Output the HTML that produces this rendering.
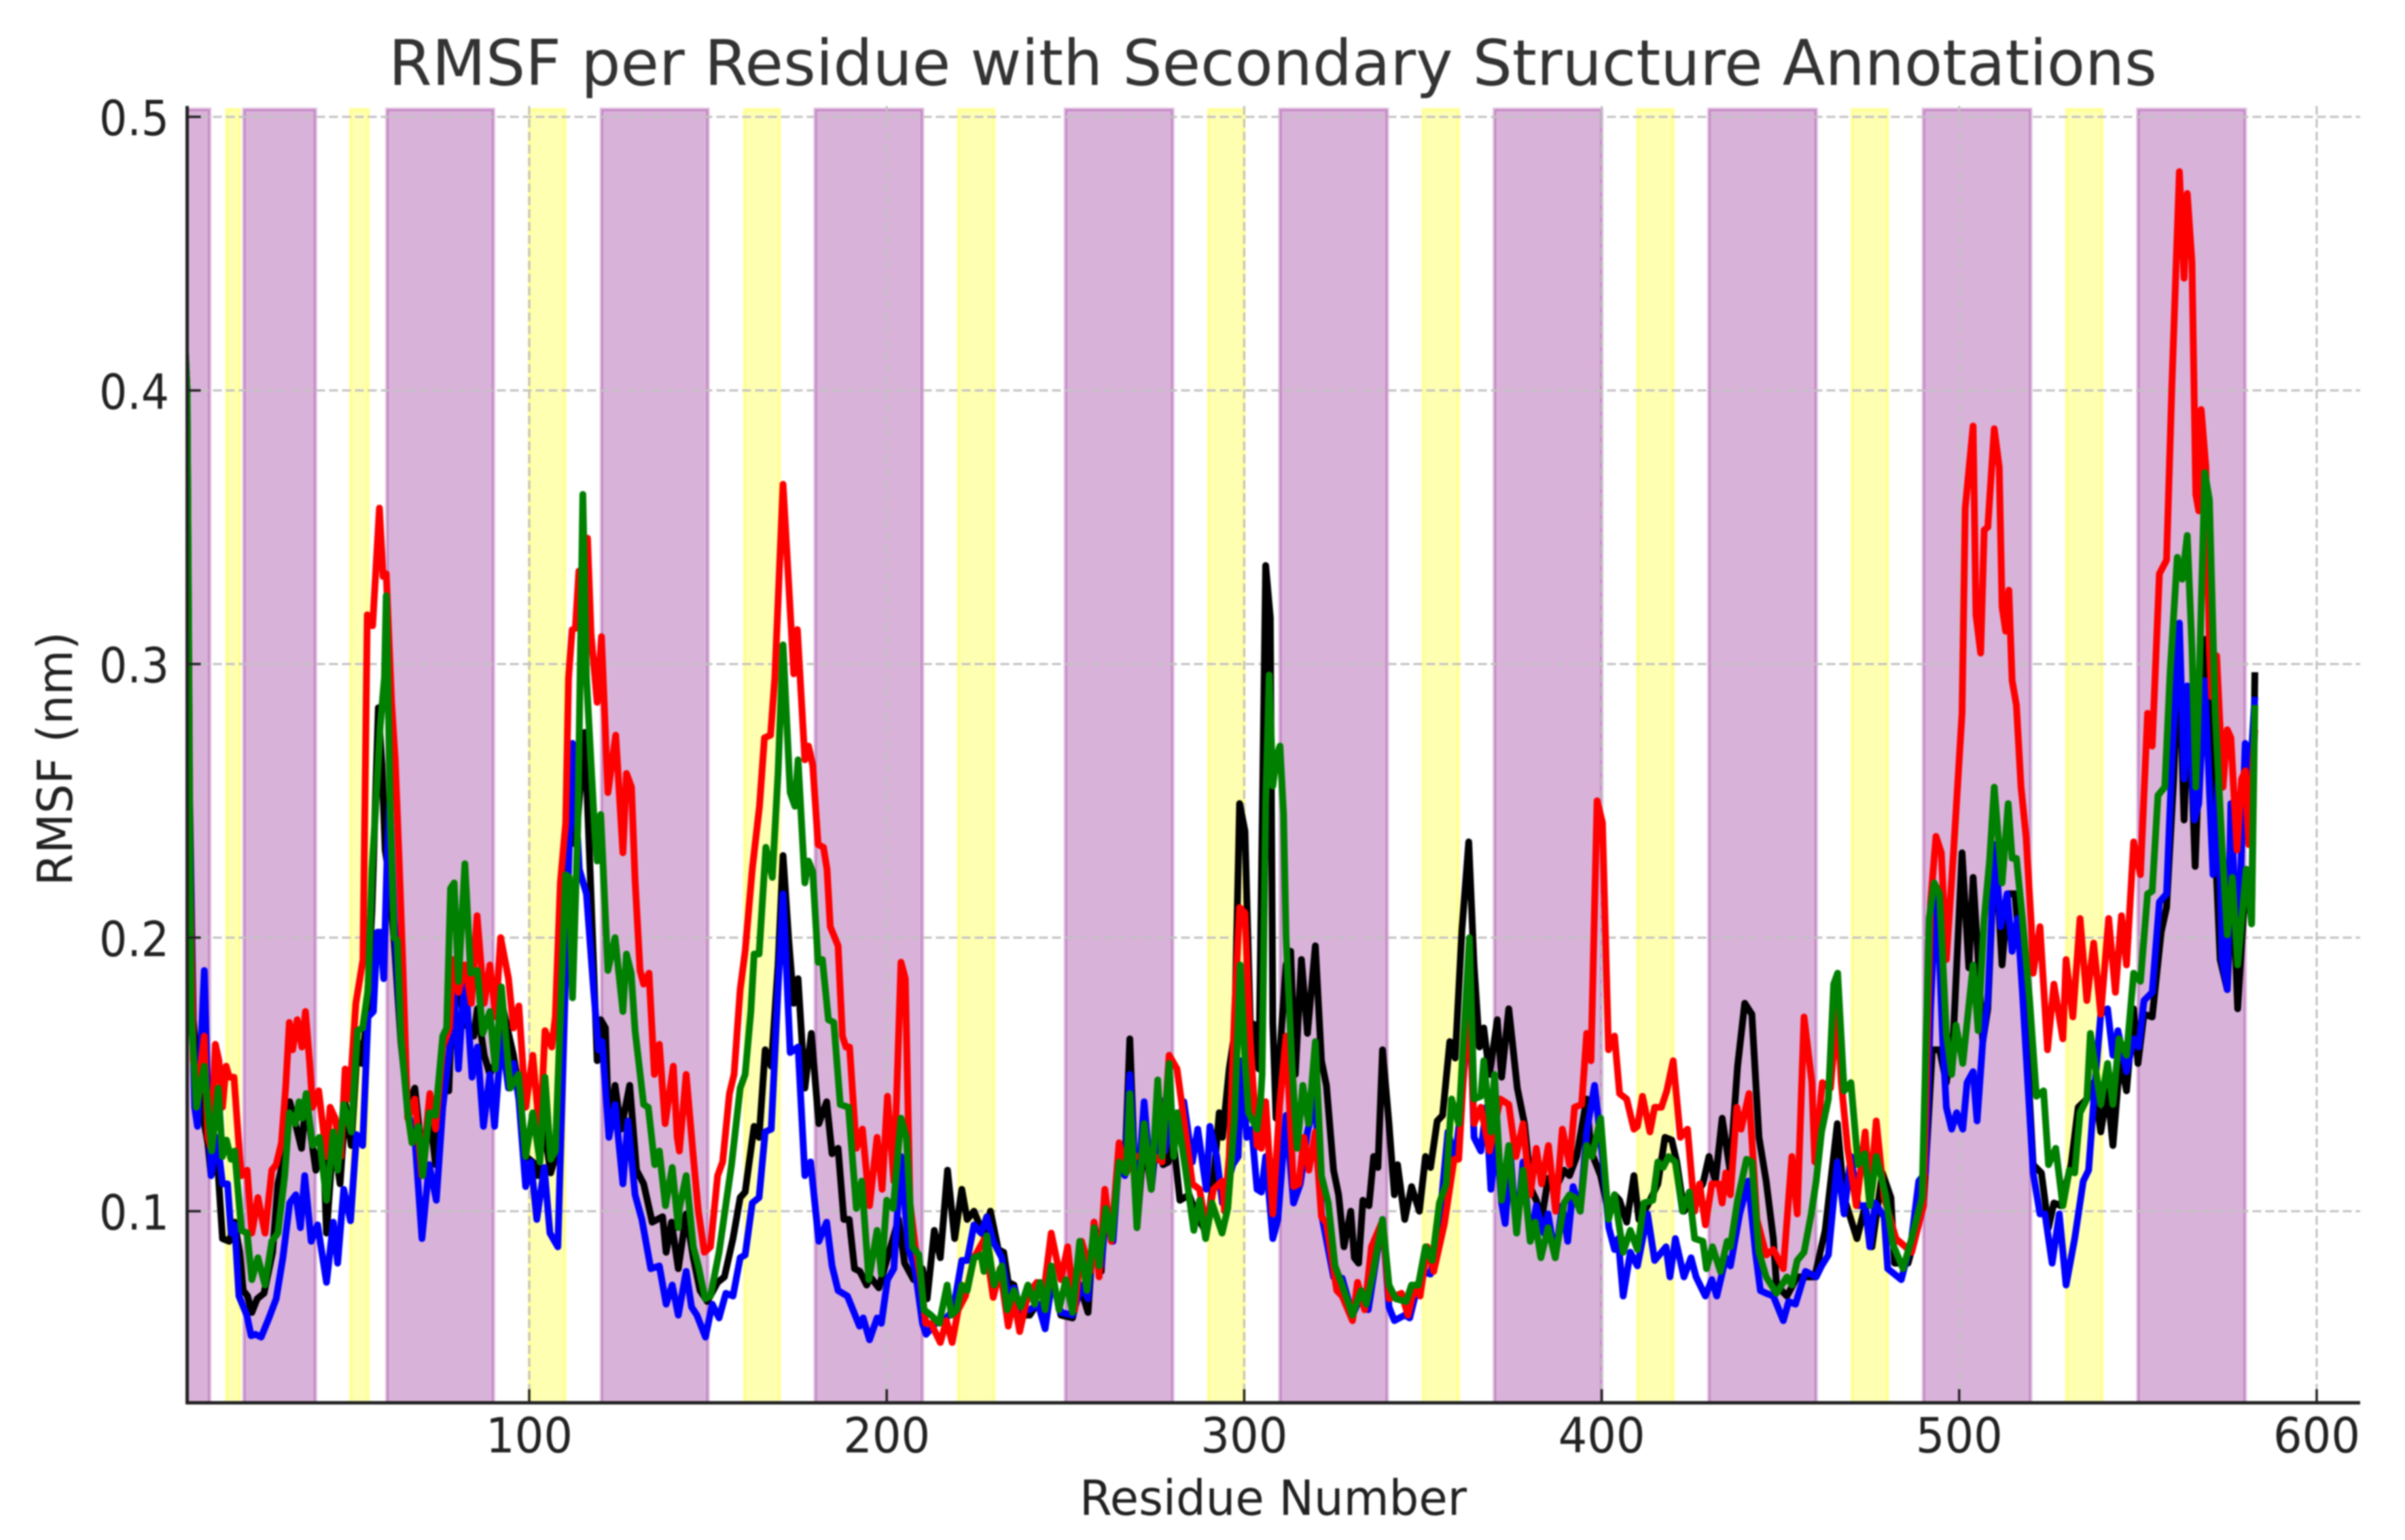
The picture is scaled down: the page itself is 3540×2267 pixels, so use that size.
<!DOCTYPE html>
<html>
<head>
<meta charset="utf-8">
<title>RMSF per Residue with Secondary Structure Annotations</title>
<style>
html,body{margin:0;padding:0;background:#fff;}
body{width:3540px;height:2267px;overflow:hidden;}
svg{display:block;font-family:"DejaVu Sans","Liberation Sans",sans-serif;filter:blur(1px);}
</style>
</head>
<body>
<svg id="chart" width="3540" height="2267" viewBox="0 0 3540 2267" xmlns="http://www.w3.org/2000/svg">
<defs><clipPath id="plot-clip"><rect x="275" y="150" width="3199" height="1915"></rect></clipPath></defs>
<rect x="0" y="0" width="3540" height="2267" fill="#ffffff"></rect>
<g id="spans"></g>
<g id="grid"></g>
<g id="series" clip-path="url(#plot-clip)"></g>
<g id="axes"></g>
<text x="572" y="125" font-size="93" fill="#333333" textLength="2603" lengthAdjust="spacingAndGlyphs">RMSF per Residue with Secondary Structure Annotations</text>
<text x="1589" y="2230" font-size="71" fill="#222222" textLength="570" lengthAdjust="spacingAndGlyphs">Residue Number</text>
<text transform="translate(106,1304) rotate(-90)" font-size="71" fill="#222222" textLength="374" lengthAdjust="spacingAndGlyphs">RMSF (nm)</text>
</svg>
<script>
const xTickValues=[100,200,300,400,500,600];
const xTickLabels=["100","200","300","400","500","600"];
const yTickValues=[0.1,0.2,0.3,0.4,0.5];
const yTickLabels=["0.1","0.2","0.3","0.4","0.5"];
const helixRanges=[[1,10.6],[20.2,40.2],[60.2,90],[120.2,150],[180,210],[250,280],[310,340],[370,400],[430,460],[490,520],[550,580]];
const sheetRanges=[[15.3,19],[50,55],[100,110],[160.2,170],[220,230],[290,300],[350,360],[410,420],[470,480],[530,540]];

const blackSeries=[[1,.5],[4.3,.4],[5,.25],[6,.17],[8,.14],[10.1,.125],[11,.113],[12.7,.12],[14.2,.09],[16.1,.089],[17.6,.096],[19,.085],[20,.071],[21.2,.069],[22.4,.063],[23.9,.068],[25.8,.07],[28.2,.085],[29.7,.11],[31.1,.118],[33,.14],[34.6,.132],[36.3,.123],[37.6,.141],[39,.127],[40.3,.115],[42.3,.127],[43.3,.092],[45.2,.127],[47.1,.11],[48.6,.139],[50.2,.124],[52,.162],[53.2,.154],[54.4,.169],[56,.21],[57.8,.284],[58.8,.263],[59.7,.232],[60.5,.225],[62.2,.199],[64.1,.162],[66,.138],[68,.145],[70.2,.118],[72,.138],[73.8,.117],[75.8,.145],[77.5,.144],[78.7,.187],[80,.183],[82,.169],[84.5,.164],[85.5,.174],[87.4,.157],[89,.15],[90.8,.155],[92.7,.174],[94.2,.165],[95.6,.157],[97.1,.145],[99,.12],[101,.118],[102.4,.113],[104,.132],[106,.114],[107.8,.122],[109.7,.173],[111.6,.26],[113,.234],[115.5,.275],[117,.225],[119,.155],[120,.17],[121.3,.167],[122.3,.129],[124,.146],[125.7,.13],[128.1,.146],[130,.115],[132,.11],[134.4,.096],[137.3,.098],[138.3,.085],[139.8,.096],[141.7,.079],[143.9,.099],[145.9,.083],[147.8,.071],[149.8,.067],[152.7,.074],[154.6,.076],[157,.09],[159,.105],[160.4,.107],[162.9,.131],[164.3,.127],[166,.159],[167.7,.153],[169.6,.19],[171,.23],[172.6,.199],[174,.176],[175.2,.185],[177.1,.145],[178.9,.165],[181,.132],[183.2,.14],[184.7,.121],[186.4,.123],[188,.097],[189.5,.097],[191,.079],[192.5,.078],[194.4,.073],[195.4,.076],[197.8,.072],[200.2,.083],[203.3,.097],[205,.081],[207.5,.075],[210,.079],[211.3,.068],[213.3,.093],[215,.083],[217,.115],[219,.09],[221,.108],[222.5,.097],[224.4,.1],[227.2,.091],[229,.1],[231.2,.086],[232.7,.085],[234,.074],[235.6,.073],[237.5,.062],[240,.062],[242,.066],[244.3,.066],[246.3,.076],[248.7,.062],[252,.061],[254,.073],[256.3,.063],[258,.096],[260,.078],[261.3,.103],[263,.089],[265,.118],[266.6,.115],[268,.163],[270,.094],[272,.127],[274,.108],[276.3,.138],[277.3,.117],[278.8,.118],[279.7,.132],[282,.104],[284.6,.106],[286.5,.099],[289.4,.092],[291.4,.111],[293,.136],[293.9,.127],[295.8,.152],[297.3,.165],[298.7,.249],[300.2,.239],[301.7,.169],[303.1,.168],[304.1,.152],[306,.336],[307.3,.317],[308,.169],[308.9,.134],[310.4,.166],[311.7,.19],[313,.195],[314.3,.15],[316,.192],[317.7,.165],[319.9,.197],[321.6,.155],[323,.146],[325,.115],[326.4,.106],[327.9,.087],[329.8,.1],[330.8,.083],[332,.081],[333.2,.104],[334.9,.102],[336.2,.12],[337.4,.116],[338.7,.159],[340.5,.132],[342,.106],[342.9,.117],[344.9,.097],[346.8,.109],[349,.1],[350.7,.12],[352.1,.116],[354,.133],[355.5,.135],[357.5,.162],[359,.156],[360.9,.203],[362.8,.235],[364.3,.19],[365.8,.16],[367,.167],[368.6,.15],[370.8,.17],[372,.149],[374,.174],[376.4,.145],[378.4,.132],[380.3,.108],[381.7,.104],[383.2,.097],[385,.112],[387,.108],[389.5,.115],[391,.113],[393,.12],[395.8,.141],[397,.122],[399.7,.113],[402,.099],[403.6,.106],[405,.104],[407,.096],[409,.113],[410.4,.097],[412.8,.102],[415.7,.11],[417.7,.127],[419.6,.126],[421,.118],[423,.1],[425.4,.104],[428.3,.11],[430,.12],[431.8,.111],[433.7,.134],[435.9,.115],[438,.153],[440,.176],[442,.172],[444,.127],[446,.111],[448,.09],[448.9,.073],[451.8,.069],[454.7,.076],[459.6,.076],[462.5,.093],[465.9,.132],[467.8,.105],[471.4,.09],[473.7,.102],[475.6,.087],[478.5,.114],[480.9,.105],[481.9,.081],[485.7,.081],[490,.102],[492.5,.159],[494.5,.159],[496.4,.147],[498.4,.165],[500.8,.231],[502.7,.189],[503.9,.222],[505.3,.192],[506.6,.162],[508,.174],[510,.234],[512,.19],[513.6,.216],[515.6,.216],[517.6,.186],[519.2,.153],[520.7,.117],[523,.114],[525,.094],[526.5,.103],[528.4,.102],[531.3,.117],[533.3,.138],[535.7,.141],[537.6,.147],[539.6,.129],[541.5,.144],[543,.124],[545,.156],[546.8,.144],[548.8,.174],[550,.154],[551.7,.172],[554,.171],[556.5,.202],[558,.211],[560,.258],[561.4,.306],[562.9,.243],[564.3,.288],[566,.226],[567.2,.267],[568.7,.309],[570.6,.264],[573,.192],[575,.181],[576.4,.225],[577.9,.174],[580.3,.225],[581.8,.207],[582.7,.297]];

const blueSeries=[[1,.4],[4.3,.3],[5,.24],[6,.16],[6.4,.138],[7.2,.131],[9.1,.188],[10.1,.141],[11,.113],[12.7,.127],[14.2,.11],[15.6,.11],[16.6,.092],[17.6,.095],[18.8,.069],[21,.062],[22.2,.0545],[23.4,.055],[25,.054],[27.2,.061],[29.2,.068],[31.1,.083],[33,.103],[34.7,.106],[36,.094],[37.2,.113],[39,.089],[40.8,.095],[43.3,.074],[45.2,.096],[46.4,.081],[48.1,.108],[50,.0965],[51.7,.128],[53.4,.124],[54.9,.171],[56.4,.173],[57.5,.202],[58.3,.202],[59.3,.185],[60.2,.228],[61,.25],[62.2,.207],[64.1,.164],[66,.136],[68,.127],[70,.09],[72,.117],[74,.104],[75.8,.138],[77.7,.159],[78.7,.187],[80.2,.152],[82,.188],[84,.149],[85.5,.16],[87.2,.131],[89,.15],[90.3,.131],[92.2,.164],[94.2,.145],[95.6,.154],[97.1,.141],[99,.109],[100.5,.118],[102.1,.097],[104.2,.116],[105.8,.092],[108,.087],[109.7,.164],[111,.225],[112.1,.271],[114,.225],[116,.216],[118,.181],[119.4,.159],[120.4,.162],[122.3,.127],[124,.139],[126.2,.11],[127.6,.133],[129.6,.106],[131.5,.097],[134,.079],[136.4,.08],[138.3,.066],[140,.073],[141.7,.062],[143.9,.078],[145.4,.065],[146.9,.062],[149.3,.054],[151.2,.066],[153.1,.061],[155,.07],[157,.069],[159,.083],[160.4,.084],[162.4,.103],[164.3,.105],[166,.129],[167.7,.13],[169.6,.181],[171,.216],[173,.158],[175.2,.16],[177.1,.113],[178.7,.118],[181,.089],[183.2,.096],[184.7,.08],[186.4,.071],[189,.069],[192.4,.058],[193.4,.061],[195.2,.053],[197.3,.061],[198.5,.059],[200.2,.075],[202,.079],[204,.12],[206,.087],[208,.078],[210,.059],[211,.055],[213.7,.059],[216.7,.061],[218.6,.064],[221,.082],[222.5,.082],[224.4,.095],[226.4,.092],[228,.098],[229.8,.089],[232.2,.083],[234,.069],[235.6,.072],[237.5,.064],[240,.064],[242.4,.066],[244.3,.057],[246.3,.075],[248.7,.063],[252,.062],[254.5,.073],[256.3,.068],[258,.094],[260,.08],[261.3,.099],[263.3,.089],[265,.12],[266.6,.113],[268,.15],[270,.103],[272,.14],[274,.108],[276.3,.141],[277.8,.122],[279.7,.136],[281.2,.129],[283.1,.14],[285.5,.118],[287,.13],[289.4,.108],[290.4,.131],[292.3,.12],[293.9,.103],[296.8,.117],[298.3,.12],[299.2,.155],[300.7,.127],[302.1,.13],[303.6,.108],[304.8,.107],[306,.12],[308,.09],[309.4,.097],[311.7,.135],[313.8,.103],[315.7,.11],[317.7,.129],[319.9,.141],[321.6,.099],[325,.076],[327.4,.0755],[330.3,.062],[332.7,.069],[334.7,.064],[336.6,.08],[338.7,.097],[340.5,.065],[342,.06],[344.9,.062],[346.3,.061],[347.8,.069],[349.7,.078],[352.1,.077],[354.6,.096],[357,.129],[359,.119],[360.9,.141],[363,.178],[364.3,.127],[366.2,.122],[367.7,.138],[369,.108],[370.6,.127],[372,.103],[373,.0955],[374.5,.12],[376.2,.092],[378,.118],[380,.089],[381.7,.102],[383.8,.092],[385,.099],[387,.083],[389,.102],[390.5,.089],[392,.109],[394,.1],[395.8,.129],[398,.146],[400.2,.12],[402,.094],[403.6,.086],[404.6,.09],[406,.069],[408,.085],[410,.08],[412.8,.099],[414.8,.082],[418,.087],[419.1,.076],[420.6,.09],[423,.076],[425,.083],[426.4,.076],[429,.069],[430.8,.075],[432.2,.069],[434.7,.083],[436,.08],[438.6,.099],[441,.111],[443,.085],[444.4,.071],[446,.07],[448,.069],[450.8,.06],[452.3,.067],[454.2,.066],[457,.078],[460,.076],[461.5,.08],[463.4,.084],[465.9,.118],[467.8,.099],[469.7,.12],[471.7,.102],[473.7,.102],[475,.087],[476.5,.103],[479,.098],[480,.079],[483.8,.075],[486.7,.09],[488.7,.111],[490.6,.114],[492,.174],[493.5,.216],[494.5,.192],[495.4,.162],[496.4,.138],[497.9,.13],[499.3,.136],[501,.13],[502.2,.147],[503.9,.151],[505,.133],[506.6,.162],[508,.177],[510,.234],[511.6,.204],[513.4,.216],[514.8,.195],[516.3,.207],[517.7,.18],[519.2,.147],[520.7,.114],[522.6,.099],[524,.099],[526,.081],[528,.099],[529.9,.073],[532.3,.09],[534.7,.111],[536.2,.115],[538,.147],[539.6,.172],[541.5,.174],[543,.157],[544.4,.166],[546.8,.151],[548.8,.163],[550.2,.16],[551.7,.177],[554,.18],[556,.213],[558,.216],[559.5,.264],[561.6,.315],[562.9,.258],[563.8,.292],[565.8,.243],[567,.249],[568.7,.294],[571,.223],[572.5,.258],[573.5,.192],[575,.181],[576,.249],[577.9,.192],[580,.271],[581.3,.258],[582.7,.288]];

const redSeries=[[1,.4],[4.3,.3],[5,.23],[6,.155],[7.4,.145],[9.1,.164],[10.1,.127],[11,.123],[12.2,.161],[13.2,.155],[14.2,.138],[15.2,.153],[16.1,.149],[17.4,.149],[19,.12],[19.5,.113],[21.1,.115],[22.4,.092],[24.1,.105],[26.1,.092],[28,.115],[29.2,.117],[30.7,.125],[31.9,.146],[32.9,.169],[33.8,.159],[35.1,.17],[36.4,.16],[37.4,.173],[38.6,.154],[39.4,.138],[41.1,.144],[43.3,.12],[44.3,.138],[45.7,.134],[47.3,.12],[48.5,.152],[49.7,.141],[51.5,.176],[53.5,.192],[54.7,.318],[56.2,.314],[58.1,.357],[59.1,.332],[60,.333],[61.5,.286],[62.5,.265],[63.6,.228],[64.6,.192],[66,.134],[68,.141],[70,.113],[72.2,.143],[73.8,.13],[75.8,.16],[77.7,.167],[78.7,.192],[80.2,.18],[82,.19],[83.8,.176],[85.4,.208],[87.4,.176],[89,.19],[90.6,.171],[92,.2],[94.2,.185],[95.6,.167],[97.1,.175],[99,.138],[101,.157],[103,.127],[104.4,.166],[106.3,.16],[107.3,.171],[108.7,.22],[110.2,.242],[111,.295],[112,.3125],[112.9,.313],[113.9,.334],[115,.328],[116.3,.346],[117.3,.311],[119,.286],[120.2,.31],[122,.253],[124.2,.274],[126.2,.231],[127.2,.26],[128.6,.255],[129.6,.221],[131,.188],[132,.183],[133.5,.187],[135,.15],[136.4,.161],[138,.132],[140.3,.153],[141.4,.127],[142,.122],[143.9,.15],[145.9,.12],[147.3,.1],[149,.085],[150.7,.087],[152.7,.113],[154.1,.118],[156,.143],[157.3,.15],[159,.181],[160.4,.195],[162.4,.225],[164.4,.248],[165.8,.273],[167.5,.274],[168.7,.295],[171,.3657],[174,.2964],[175,.3126],[177.1,.265],[178.1,.27],[179.3,.263],[180.8,.234],[182.3,.233],[183.3,.225],[184.2,.204],[186.4,.197],[187.6,.164],[188.6,.16],[189.6,.16],[191.5,.123],[193.2,.13],[195.2,.102],[197.3,.127],[198.7,.108],[200.2,.142],[202,.111],[204,.191],[205.2,.185],[206.5,.103],[208,.087],[209.4,.076],[210.9,.059],[212.4,.059],[215,.052],[216.7,.06],[218.3,.052],[220,.064],[222,.069],[224.4,.083],[227.4,.09],[229.8,.0685],[231.7,.079],[234,.058],[235.6,.068],[237.2,.056],[239.5,.0695],[242,.074],[243.8,.069],[246,.092],[248.7,.075],[250.6,.087],[252.6,.064],[254.5,.089],[257,.078],[258,.096],[259.4,.076],[261,.108],[262.8,.089],[265,.125],[267,.114],[269,.12],[272,.12],[275,.12],[277,.118],[279,.157],[281.2,.152],[283.6,.129],[285.5,.11],[287.5,.108],[289.4,.094],[291.4,.108],[293.8,.111],[294.5,.1],[295.8,.12],[297.3,.173],[298.7,.211],[300.2,.209],[301.7,.162],[303.6,.124],[304.8,.123],[306,.14],[308,.099],[309.9,.139],[311.7,.164],[313.8,.109],[315.3,.11],[316.7,.127],[318.1,.115],[319.9,.129],[321.6,.098],[323,.0955],[325.9,.071],[327.4,.069],[330.3,.06],[331.7,.074],[333.7,.064],[335.6,.087],[338.7,.0965],[340.5,.068],[344,.07],[345.8,.062],[347.8,.073],[349.2,.069],[351.2,.087],[353,.078],[356,.0955],[358.7,.119],[360,.119],[361.9,.162],[363,.174],[364.3,.132],[366.2,.138],[368.6,.122],[371.6,.141],[374,.139],[376,.12],[378,.132],[380,.106],[381.7,.123],[383.2,.11],[385.1,.124],[387.1,.1],[389,.13],[391,.117],[392.4,.138],[394.4,.139],[395.8,.165],[397,.155],[398.7,.25],[400.2,.242],[401.9,.159],[403.6,.164],[405,.143],[407,.141],[409,.13],[410,.131],[411.4,.142],[413.5,.129],[414.8,.138],[416.7,.138],[418.2,.144],[420,.155],[422,.127],[424,.13],[426,.1],[427.4,.11],[429,.095],[430.8,.11],[432.8,.11],[433.7,.103],[434.7,.114],[436,.106],[437.8,.138],[439,.13],[441.2,.143],[443.4,.097],[446,.084],[448,.086],[450.8,.079],[453.2,.12],[454.7,.099],[456.6,.171],[458.8,.147],[459.6,.118],[461.7,.147],[464,.145],[465.9,.174],[467,.147],[468.8,.123],[471.2,.102],[473.7,.129],[475,.105],[476.8,.133],[479,.105],[482.3,.09],[486.7,.085],[490,.102],[492,.213],[493.5,.237],[495,.231],[496.4,.192],[498.4,.231],[500.8,.282],[501.7,.357],[503.9,.387],[504.7,.318],[506,.304],[507,.349],[508,.35],[509.8,.386],[511.2,.372],[512,.321],[513,.312],[513.9,.327],[514.8,.294],[516,.285],[517.3,.255],[518.7,.237],[520.2,.204],[520.7,.187],[522.6,.204],[524.7,.159],[526.5,.183],[529,.163],[529.9,.192],[531.8,.171],[533.8,.207],[535.7,.177],[537.6,.198],[539.6,.172],[541.8,.207],[543.7,.18],[545.4,.208],[546.8,.19],[548.8,.235],[550.7,.223],[552.7,.282],[554,.27],[556,.333],[558,.338],[559.5,.402],[561.6,.48],[562.9,.441],[563.8,.472],[565.1,.447],[566.2,.362],[567,.356],[567.7,.393],[569,.372],[570,.306],[570.6,.288],[572,.303],[573.8,.255],[575,.276],[576,.273],[577.7,.232],[579,.258],[580,.261],[581,.234],[582.7,.276]];

const greenSeries=[[1,.5],[4.3,.4],[5,.24],[5.4,.173],[6.9,.138],[9.1,.153],[11.2,.122],[13,.145],[14.2,.12],[15.3,.126],[16.6,.119],[17.6,.122],[19.5,.093],[21.1,.092],[22.4,.075],[24.1,.083],[26.1,.073],[28,.089],[29.7,.092],[31.6,.113],[32.9,.136],[34.6,.132],[35.6,.14],[36.5,.134],[37.6,.143],[39.4,.124],[41.3,.127],[43.3,.104],[45.2,.129],[46.4,.115],[48.1,.139],[50.2,.129],[52,.166],[53.4,.167],[54.9,.181],[56,.225],[56.8,.242],[58.3,.277],[59.5,.295],[60,.325],[61.2,.242],[62.2,.2],[63.1,.199],[64.1,.164],[66,.136],[67.2,.125],[69,.131],[70.2,.113],[72,.136],[73.8,.135],[75.8,.164],[76.9,.167],[78,.218],[79,.22],[80.2,.184],[82,.227],[83.6,.187],[85.5,.188],[87,.165],[89,.173],[90.5,.152],[92.2,.182],[94.7,.145],[97,.15],[99,.12],[101,.136],[103,.118],[104.4,.149],[106,.119],[107.3,.122],[110.2,.223],[111.2,.222],[112.1,.178],[113.6,.242],[115,.362],[116,.295],[118.4,.237],[119,.228],[120,.245],[122,.188],[124,.2],[126.2,.173],[127.2,.194],[128.5,.187],[129.6,.166],[132,.139],[133.3,.138],[135.1,.117],[136.4,.122],[138.1,.102],[140,.116],[141.7,.094],[142,.101],[143.9,.113],[145.9,.087],[147.3,.08],[149.2,.068],[150.7,.069],[153.1,.085],[156.6,.117],[159,.145],[160.4,.15],[162,.173],[162.9,.194],[164.3,.194],[166.2,.233],[168,.222],[169.6,.26],[171,.307],[173,.253],[174.3,.248],[175.2,.265],[177.1,.22],[178.1,.228],[179.3,.224],[180.8,.191],[182,.192],[183.7,.17],[185.2,.169],[187,.139],[189.3,.138],[191.5,.101],[193,.111],[195,.075],[197.3,.093],[198.5,.077],[200,.104],[201.8,.101],[204,.134],[205.5,.127],[207.2,.087],[209,.084],[210.4,.064],[212.4,.062],[214.7,.059],[216.9,.073],[218.1,.062],[219.6,.064],[221,.073],[222.5,.071],[224.4,.083],[226.4,.084],[227.2,.078],[228,.091],[230,.073],[232.2,.08],[233.7,.064],[235.6,.071],[237.5,.065],[239.5,.073],[241.4,.066],[242.9,.074],[244.3,.064],[246,.08],[248.2,.064],[250.1,.075],[252,.063],[254,.089],[256,.071],[258,.094],[259.4,.08],[261.3,.101],[263,.09],[265,.118],[267,.114],[268,.143],[270,.094],[272,.132],[274,.108],[275.8,.148],[277,.12],[279,.154],[280.3,.12],[281.2,.136],[283.6,.115],[285.9,.093],[287.5,.104],[289.2,.09],[291,.103],[293.8,.092],[295.4,.101],[297.3,.134],[298.9,.19],[300.2,.155],[301.2,.136],[303.6,.13],[304.6,.141],[305,.15],[306,.249],[307,.296],[308,.2554],[309,.266],[310,.27],[311,.245],[311.7,.2],[313.3,.155],[314.8,.123],[316.4,.146],[318,.132],[319.9,.162],[321.6,.113],[323.5,.103],[325.4,.08],[327.4,.073],[330.3,.062],[332.7,.071],[334.2,.066],[336.1,.078],[338.7,.097],[340.5,.073],[342.4,.068],[345.3,.067],[346.8,.073],[348.7,.073],[350.7,.087],[352.6,.082],[354.6,.103],[356.5,.11],[358,.141],[360,.132],[363,.2],[364.3,.141],[366.2,.142],[367,.155],[369,.129],[370,.15],[372,.104],[374,.124],[376.2,.092],[378,.115],[380,.089],[381.4,.096],[383,.083],[385,.094],[387,.083],[389.5,.103],[391,.106],[392.4,.105],[394,.1],[395.8,.124],[397.3,.12],[399.7,.134],[401.9,.097],[403.6,.106],[406,.085],[408,.093],[410,.086],[411.8,.103],[414.3,.104],[415.7,.118],[417.2,.116],[418.7,.12],[420.6,.118],[422.6,.1],[424.5,.107],[426,.09],[428.3,.089],[429.3,.079],[431,.087],[433.2,.078],[435.1,.089],[436,.087],[438,.104],[440.5,.119],[442,.118],[444,.085],[446,.076],[448.9,.07],[451.8,.076],[453.2,.073],[454.7,.082],[456.6,.085],[458.6,.099],[460,.111],[461.5,.129],[463.4,.141],[464.9,.183],[466,.187],[467.8,.144],[469.7,.147],[471.7,.117],[473.6,.121],[475,.102],[476.8,.12],[479.4,.106],[481.4,.088],[484.3,.079],[486.7,.09],[489.6,.105],[491.6,.207],[493,.22],[494.5,.216],[496.4,.165],[497.9,.15],[499.1,.168],[501,.154],[503.9,.19],[505.3,.166],[507,.207],[508.5,.228],[509.8,.255],[512,.22],[513.7,.249],[514.8,.229],[516,.229],[517.7,.207],[519.7,.177],[521.6,.142],[523.6,.144],[525,.117],[527,.123],[529,.102],[530.8,.115],[532.3,.114],[533.8,.136],[535.7,.141],[536.7,.165],[539.6,.139],[541.5,.154],[543,.139],[544.7,.163],[546.8,.157],[548.8,.187],[550.7,.184],[552.7,.216],[554,.217],[555.6,.252],[557.5,.255],[559,.297],[561,.339],[562.4,.331],[563.8,.347],[565.1,.306],[566.2,.255],[567.2,.297],[568.7,.37],[570,.36],[571.6,.282],[573.5,.234],[575,.201],[576.4,.222],[577.9,.19],[580.3,.225],[581.8,.205],[582.7,.285]];

const NS='http://www.w3.org/2000/svg';
function xAxis(residue){return 779+(residue-100)*5.262;}
function yAxis(rmsf){return 172+(0.5-rmsf)*4027.5;}
function make(tag,parent,attrs,text){
  const el=document.createElementNS(NS,tag);
  for(const k in attrs){el.setAttribute(k,attrs[k]);}
  if(text!==undefined){el.textContent=text;}
  parent.appendChild(el);
  return el;
}
const gridLayer=document.getElementById('grid');
const spanLayer=document.getElementById('spans');
const seriesLayer=document.getElementById('series');
const axesLayer=document.getElementById('axes');
const AXIS_LEFT=275.5,AXIS_RIGHT=3474,AXIS_TOP=156,AXIS_BOTTOM=2065,SPAN_TOP=161;

xTickValues.forEach(function(v,i){
  const g=make('line',gridLayer,{x1:xAxis(v),x2:xAxis(v),y1:AXIS_TOP,y2:AXIS_BOTTOM,stroke:'#c2c0c2','stroke-width':3,'stroke-dasharray':'13 6'});
  
  
  const t=make('line',axesLayer,{x1:xAxis(v),x2:xAxis(v),y1:AXIS_BOTTOM,y2:AXIS_BOTTOM-20,stroke:'#222',"stroke-width":3.5});
  
  
  const l=make('text',axesLayer,{x:xAxis(v)-64,y:2138,'font-size':71,fill:'#222',textLength:128,lengthAdjust:'spacingAndGlyphs'},xTickLabels[i]);
  
  
});
yTickValues.forEach(function(v,i){
  const g=make('line',gridLayer,{x1:AXIS_LEFT,x2:AXIS_RIGHT,y1:yAxis(v),y2:yAxis(v),stroke:'#c2c0c2','stroke-width':3,'stroke-dasharray':'13 6'});
  
  
  const t=make('line',axesLayer,{x1:AXIS_LEFT,x2:AXIS_LEFT+20,y1:yAxis(v),y2:yAxis(v),stroke:'#222',"stroke-width":3.5});
  
  
  const l=make('text',axesLayer,{x:146,y:yAxis(v)+27,'font-size':71,fill:'#222',textLength:103,lengthAdjust:'spacingAndGlyphs'},yTickLabels[i]);
  
  
});
helixRanges.forEach(function(r){
  const left=Math.max(xAxis(r[0]),AXIS_LEFT);
  const s=make('rect',spanLayer,{x:left,y:SPAN_TOP,width:xAxis(r[1])-left,height:AXIS_BOTTOM-SPAN_TOP,fill:'#800080','fill-opacity':.3,stroke:'#800080','stroke-opacity':.26,'stroke-width':5});
  
  
});
sheetRanges.forEach(function(r){
  const left=xAxis(r[0]);
  const s=make('rect',spanLayer,{x:left,y:SPAN_TOP,width:xAxis(r[1])-left,height:AXIS_BOTTOM-SPAN_TOP,fill:'#ffff00','fill-opacity':.3,stroke:'#ffff00','stroke-opacity':.26,'stroke-width':5});
  
  
});
function drawSeries(points,color,name){
  const d=points.map(function(p,i){return (i?'L':'M')+xAxis(p[0]).toFixed(1)+' '+yAxis(p[1]).toFixed(1);}).join('');
  const path=make('path',seriesLayer,{d:d,fill:'none',stroke:color,'stroke-width':10,'stroke-linejoin':'round','stroke-linecap':'butt'});
  
  
}
drawSeries(blackSeries,'#000000','series-black');
drawSeries(blueSeries,'#0000ff','series-blue');
drawSeries(redSeries,'#ff0000','series-red');
drawSeries(greenSeries,'#008000','series-green');
const leftSpine=make('line',axesLayer,{x1:AXIS_LEFT,x2:AXIS_LEFT,y1:AXIS_TOP,y2:AXIS_BOTTOM+2,stroke:'#222','stroke-width':5});


const bottomSpine=make('line',axesLayer,{x1:AXIS_LEFT-2,x2:AXIS_RIGHT,y1:AXIS_BOTTOM,y2:AXIS_BOTTOM,stroke:'#222','stroke-width':5});


</script>
</body>
</html>
